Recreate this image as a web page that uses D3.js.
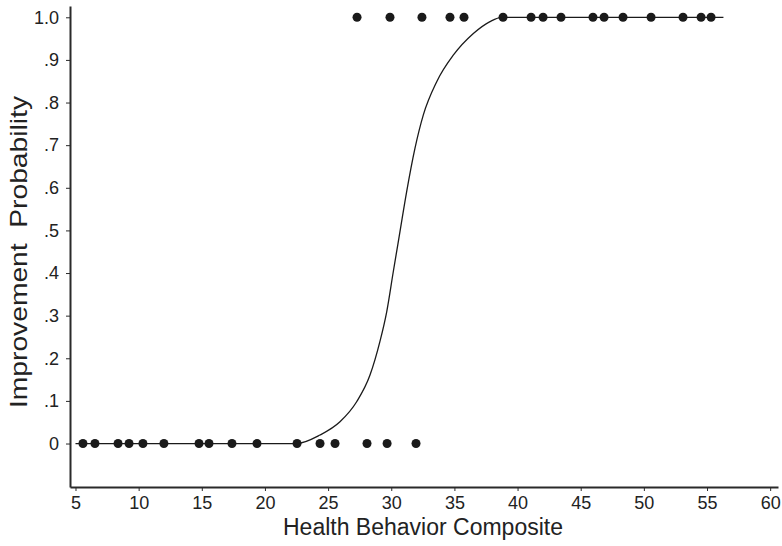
<!DOCTYPE html>
<html>
<head>
<meta charset="UTF-8">
<title>improvement probability</title>
<script src="https://cdn.jsdelivr.net/npm/d3@7"></script>
<style>
    body { margin: 0; background: #fff; }
    svg { display: block; font-family: "Liberation Sans", Arial, sans-serif; }
    .axis path, .axis line { stroke: #2a2a2a; }
    .axis text { fill: #222; font-size: 18px; }
    .title { fill: #222; font-size: 23px; }
</style>
</head>
<body>
<script>
    // observed cases, outcome 0 (not improved)
    var xZero = [5.59, 6.54, 8.37, 9.24, 10.34, 12.0, 14.78, 15.57, 17.39, 19.37,
                 22.54, 24.36, 25.55, 28.08, 29.67, 31.96];
    // observed cases, outcome 1 (improved)
    var xOne = [27.29, 29.90, 32.43, 34.65, 35.76, 38.85, 41.07, 42.02, 43.44,
                45.97, 46.85, 48.35, 50.57, 53.10, 54.53, 55.32];

    // fitted curve
    var curveX = [5, 22.51, 24.36, 25.94, 27.26, 28.31, 29.10, 29.64, 30.16, 30.69,
                  31.22, 31.88, 32.54, 33.60, 34.91, 36.50, 37.82, 38.74, 56.3];
    var curveY = [0, 0, 0.02, 0.051, 0.098, 0.16, 0.239, 0.309, 0.403, 0.497,
                  0.591, 0.693, 0.771, 0.849, 0.911, 0.962, 0.99, 1, 1];

    var xTicks = [5, 10, 15, 20, 25, 30, 35, 40, 45, 50, 55, 60];
    var yTicks = [0, 0.1, 0.2, 0.3, 0.4, 0.5, 0.6, 0.7, 0.8, 0.9, 1.0];
    var yTickLabels = ["0", ".1", ".2", ".3", ".4", ".5", ".6", ".7", ".8", ".9", "1.0"];

    var width = 782,
        height = 546,
        plotLeft = 70, plotRight = 778, plotTop = 6, plotBottom = 487;

    var x = d3.scaleLinear().domain([4.565, 60.62]).range([plotLeft, plotRight]);
    var y = d3.scaleLinear().domain([-0.102, 1.0265]).range([plotBottom, plotTop]);

    var svg = d3.select("body").append("svg")
        .attr("width", width)
        .attr("height", height);

    var xAxis = d3.axisBottom(x)
        .tickValues(xTicks)
        .tickSizeInner(4)
        .tickSizeOuter(0)
        .tickPadding(5);

    var yAxis = d3.axisLeft(y)
        .tickValues(yTicks)
        .tickFormat(function(d, i){ return yTickLabels[i]; })
        .tickSizeInner(4)
        .tickSizeOuter(0)
        .tickPadding(7);

    var gx = svg.append("g")
        .attr("class", "axis")
        .attr("transform", "translate(0," + plotBottom + ")")
        .call(xAxis);
    gx.select(".domain").attr("stroke-width", 2);
    gx.selectAll(".tick line").attr("stroke-width", 1);

    var gy = svg.append("g")
        .attr("class", "axis")
        .attr("transform", "translate(" + plotLeft + ",0)")
        .call(yAxis);
    gy.select(".domain").attr("stroke-width", 2);
    gy.selectAll(".tick line").attr("stroke-width", 1);

    // fitted curve
    var line = d3.line()
        .x(function(d){ return x(d[0]); })
        .y(function(d){ return y(d[1]); })
        .curve(d3.curveMonotoneX);

    svg.append("path")
        .datum(d3.zip(curveX, curveY))
        .attr("d", line)
        .attr("fill", "none")
        .attr("stroke", "#1a1a1a")
        .attr("stroke-width", 1.3);

    var pts = xZero.map(function(v){ return {x: v, y: 0}; })
        .concat(xOne.map(function(v){ return {x: v, y: 1}; }));

    svg.append("g").selectAll("circle")
        .data(pts)
      .enter().append("circle")
        .attr("cx", function(d){ return x(d.x); })
        .attr("cy", function(d){ return y(d.y); })
        .attr("r", 4.5)
        .attr("fill", "#1a1a1a");

    svg.append("text")
        .attr("class", "title")
        .attr("x", 423)
        .attr("y", 535)
        .attr("text-anchor", "middle")
        .text("Health Behavior Composite");

    // y title is spread over a longer run in the reference
    svg.append("text")
        .attr("class", "title")
        .attr("transform", "translate(27,252) rotate(-90)")
        .attr("text-anchor", "middle")
        .attr("textLength", 312)
        .attr("lengthAdjust", "spacingAndGlyphs")
        .style("font-size", "24px")
        .style("white-space", "pre")
        .text("Improvement  Probability");
</script>
</body>
</html>
